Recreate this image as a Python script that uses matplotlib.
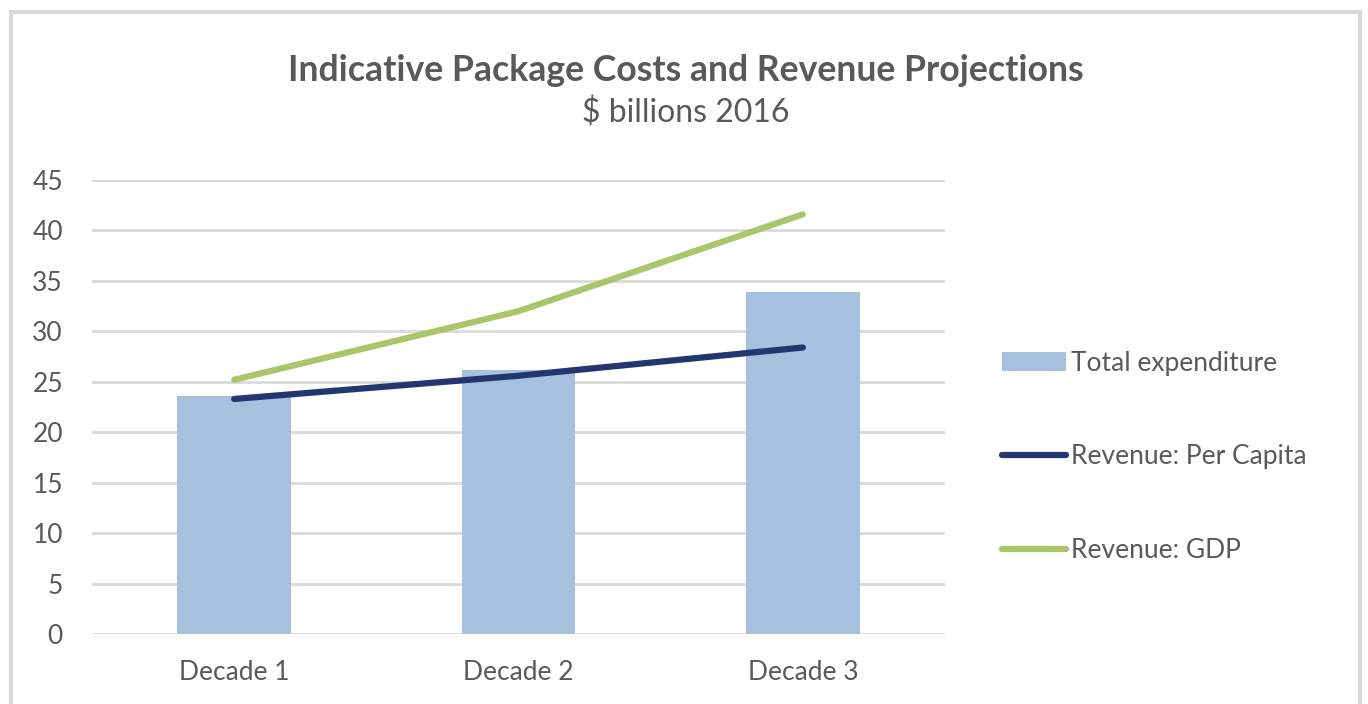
import numpy as np
import matplotlib.pyplot as plt
from matplotlib.patches import Rectangle, Patch
from matplotlib.lines import Line2D

plt.rcParams['font.family'] = ['Lato', 'DejaVu Sans']

# data
decades = ["Decade 1", "Decade 2", "Decade 3"]
total_expenditure = [23.6, 26.2, 33.9]
revenue_per_capita = [23.3, 25.6, 28.4]
revenue_gdp = [25.2, 32.0, 41.6]

text_grey = "#595959"
bar_blue = "#a7c0de"
navy = "#233670"
green = "#a9c66b"

figure = plt.figure(figsize=(13.68, 7.04), dpi=100)
axis = figure.add_axes([0.0673, 0.0994, 0.6235, 0.6449])

x = np.arange(len(decades))
axis.bar(x, total_expenditure, width=0.4, color=bar_blue, zorder=2)
axis.plot(x, revenue_per_capita, color=navy, lw=4.5, solid_capstyle="round", zorder=3)
axis.plot(x, revenue_gdp, color=green, lw=4.5, solid_capstyle="round", zorder=3)

axis.set_xlim(-0.5, 2.5)
axis.set_ylim(0, 45)
axis.set_yticks(range(0, 50, 5))
axis.set_xticks(x, decades)
axis.grid(axis="y", color="#d9d9d9", lw=2, zorder=0)
for s in axis.spines.values():
    s.set_visible(False)
axis.tick_params(length=0, labelsize=19, colors=text_grey)
axis.tick_params(axis="x", pad=19)
axis.tick_params(axis="y", pad=21)

figure.text(0.5015, 0.9, "Indicative Package Costs and Revenue Projections",
            ha="center", va="center", fontsize=25.7, fontweight="bold", color=text_grey)
figure.text(0.5015, 0.84, "$ billions 2016", ha="center", va="center",
            fontsize=23, color=text_grey)

handles = [
    Patch(facecolor=bar_blue),
    Line2D([], [], color=navy, lw=4.5, solid_capstyle="round"),
    Line2D([], [], color=green, lw=4.5, solid_capstyle="round"),
]
labels = ["Total expenditure", "Revenue: Per Capita", "Revenue: GDP"]
figure.legend(handles, labels, loc="upper left", bbox_to_anchor=(0.725, 0.517),
              frameon=False, fontsize=19, labelcolor=text_grey, handlelength=2.4,
              handletextpad=0.2, labelspacing=2.6, borderaxespad=0)

# light grey chart frame
figure.patches.append(Rectangle((0.0077, -0.05), 0.9868, 1.033, transform=figure.transFigure,
                                fill=False, edgecolor="#d9d9d9", lw=3))

figure.savefig("out.png", dpi=100)
